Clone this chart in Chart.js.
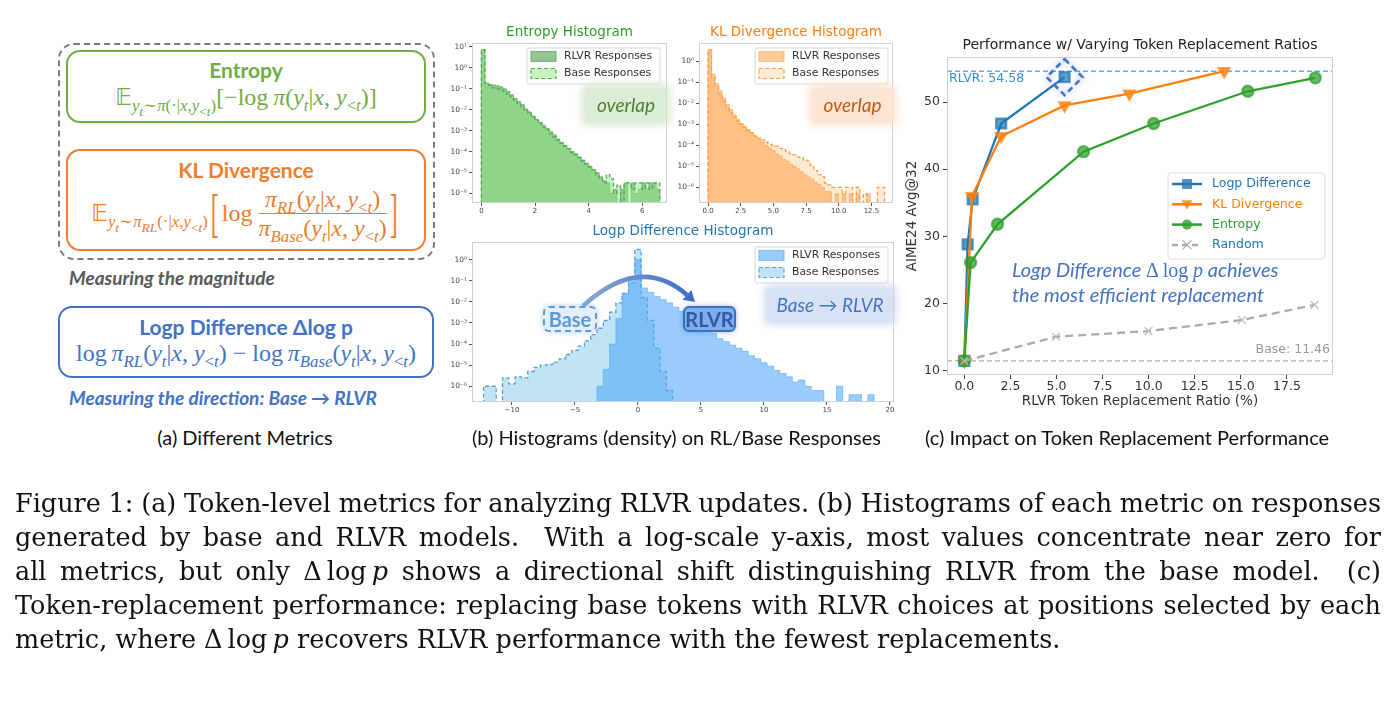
<!DOCTYPE html>
<html>
<head>
<meta charset="utf-8">
<title>Token-level metrics figure</title>
<script src="https://cdn.jsdelivr.net/npm/chart.js@4.4.1/dist/chart.umd.min.js"></script>
<style>
  html, body { margin: 0; padding: 0; background: #fff; }
  body { width: 1396px; height: 703px; position: relative; overflow: hidden; font-family: Lato, 'Open Sans', sans-serif; }
  .cw { position: absolute; }
  .rbox { position: absolute; box-sizing: border-box; border: 2px solid; border-radius: 14px; }
  .ttl { position: absolute; text-align: center; font-weight: bold; font-size: 21px; line-height: 24px; white-space: nowrap; }
  .f { position: absolute; text-align: center; font-family: 'Liberation Serif', 'DejaVu Serif', serif; font-size: 24px; line-height: 28px; white-space: nowrap; }
  .f i { font-style: italic; }
  .f sub { font-size: 0.7em; vertical-align: -0.35em; line-height: 0; }
  .f sub sub { font-size: 0.8em; }
  .bb { font-family: 'DejaVu Sans', 'DejaVu Serif', sans-serif; font-size: 0.95em; }
  .brk { display: inline-block; transform: scaleY(2.2); margin: 0 3px; }
  .frac { display: inline-flex; flex-direction: column; align-items: center; line-height: 28px; }
  .frac .den { border-top: 1.2px solid currentColor; }
  .note { position: absolute; font-style: italic; font-weight: bold; font-size: 19px; line-height: 24px; white-space: nowrap; }
  .subcap { position: absolute; text-align: center; font-size: 20px; line-height: 24px; color: #111; white-space: nowrap; }
  .cap { position: absolute; left: 15px; width: 1366px; font-family: 'DejaVu Serif', serif; font-size: 25.5px; line-height: 34px;
         white-space: nowrap; color: #111; }
  .glow { position: absolute; text-align: center; font-style: italic; font-size: 19px; line-height: 34px; border-radius: 3px; }
  .tag { position: absolute; box-sizing: border-box; border-radius: 6px; text-align: center; font-weight: bold; font-size: 20px; line-height: 22px; }
</style>
</head>
<body>

<!-- (a) metric boxes -->
<div class="rbox" style="left:58px;top:43px;width:377px;height:217px;border:2px dashed #7a7a7a;border-radius:16px"></div>
<div class="rbox" style="left:66px;top:50px;width:360px;height:73px;border-color:#70ad47"></div>
<div class="ttl" style="left:66px;top:58px;width:360px;color:#70ad47">Entropy</div>
<div class="f" style="left:66px;top:83px;width:360px;color:#70ad47"><span class="bb">𝔼</span><sub><i>y</i><sub><i>t</i></sub>∼<i>π</i>(·|<i>x</i>,<i>y</i><sub>&lt;<i>t</i></sub>)</sub>[−log&#8201;<i>π</i>(<i>y</i><sub><i>t</i></sub>|<i>x</i>, <i>y</i><sub>&lt;<i>t</i></sub>)]</div>

<div class="rbox" style="left:66px;top:149px;width:360px;height:102px;border-color:#ed7d31"></div>
<div class="ttl" style="left:66px;top:158px;width:360px;color:#ed7d31">KL Divergence</div>
<div class="f" style="left:66px;top:183px;width:360px;height:60px;display:flex;align-items:center;justify-content:center;color:#ed7d31">
  <span><span class="bb">𝔼</span><sub><i>y</i><sub><i>t</i></sub>∼<i>π</i><sub><i>RL</i></sub>(·|<i>x</i>,<i>y</i><sub>&lt;<i>t</i></sub>)</sub></span>
  <span class="brk">[</span><span>log&nbsp;</span>
  <span class="frac"><span><i>π</i><sub><i>RL</i></sub>(<i>y</i><sub><i>t</i></sub>|<i>x</i>, <i>y</i><sub>&lt;<i>t</i></sub>)</span><span class="den"><i>π</i><sub><i>Base</i></sub>(<i>y</i><sub><i>t</i></sub>|<i>x</i>, <i>y</i><sub>&lt;<i>t</i></sub>)</span></span>
  <span class="brk">]</span>
</div>
<div class="note" style="left:69px;top:266px;color:#595959">Measuring the magnitude</div>

<div class="rbox" style="left:58px;top:306px;width:376px;height:72px;border-color:#4472c4"></div>
<div class="ttl" style="left:58px;top:315px;width:376px;color:#4472c4">Logp Difference Δlog p</div>
<div class="f" style="left:58px;top:339px;width:376px;color:#4472c4">log&#8201;<i>π</i><sub><i>RL</i></sub>(<i>y</i><sub><i>t</i></sub>|<i>x</i>, <i>y</i><sub>&lt;<i>t</i></sub>) − log&#8201;<i>π</i><sub><i>Base</i></sub>(<i>y</i><sub><i>t</i></sub>|<i>x</i>, <i>y</i><sub>&lt;<i>t</i></sub>)</div>
<div class="note" style="left:69px;top:386px;color:#4472c4">Measuring the direction: Base → RLVR</div>
<div class="subcap" style="left:95px;top:425px;width:300px">(a) Different Metrics</div>

<!-- (b) histograms -->
<div class="cw" style="left:440px;top:20px;width:232px;height:202px"><canvas id="entropyHist"></canvas></div>
<div class="cw" style="left:668px;top:20px;width:230px;height:202px"><canvas id="klHist"></canvas></div>
<div class="cw" style="left:440px;top:220px;width:459px;height:201px"><canvas id="logpHist"></canvas></div>

<div class="glow" style="left:585px;top:88px;width:82px;height:34px;background:rgba(206,228,196,0.7);box-shadow:0 0 7px 4px rgba(206,228,196,0.7);color:#4f7f2f">overlap</div>
<div class="glow" style="left:812px;top:88px;width:81px;height:34px;background:rgba(252,222,203,0.8);box-shadow:0 0 7px 4px rgba(252,222,203,0.8);color:#c55a11">overlap</div>
<div class="glow" style="left:767px;top:288px;width:126px;height:34px;background:rgba(203,216,240,0.75);box-shadow:0 0 7px 4px rgba(203,216,240,0.75);color:#4472c4">Base → RLVR</div>

<svg style="position:absolute;left:0;top:0" width="1396" height="703">
  <defs>
    <linearGradient id="arc" gradientUnits="userSpaceOnUse" x1="583" y1="0" x2="694" y2="0">
      <stop offset="0" stop-color="#86abd2"/>
      <stop offset="1" stop-color="#3d6cc4"/>
    </linearGradient>
  </defs>
  <path d="M583 306 Q640 254 687 295" fill="none" stroke="url(#arc)" stroke-width="4.5"/>
  <polygon points="682.5,299.8 691.4,289.9 695,302" fill="#3d6cc4"/>
</svg>
<div class="tag" style="left:543px;top:306px;width:54px;height:26px;border:2px dashed #5b9bd5;background:rgba(226,238,250,0.92);color:#5b9bd5;box-shadow:0 0 5px rgba(91,155,213,0.5)">Base</div>
<div class="tag" style="left:683px;top:306px;width:53px;height:26px;border:2px solid #3d6fc4;background:#7db0e8;color:#2f5aa8;box-shadow:0 0 5px rgba(61,111,196,0.5)">RLVR</div>
<div class="subcap" style="left:472px;top:425px;width:400px">(b) Histograms (density) on RL/Base Responses</div>

<!-- (c) replacement performance -->
<div class="cw" style="left:900px;top:30px;width:445px;height:380px"><canvas id="perfChart"></canvas></div>
<div style="position:absolute;left:1012px;top:257px;font-style:italic;font-size:20px;line-height:24px;color:#4472c4;white-space:nowrap">Logp Difference <span style="font-style:normal;font-family:'Liberation Serif',serif">Δ log</span> <span style="font-family:'Liberation Serif',serif">p</span> achieves<br>the most efficient replacement</div>
<div class="subcap" style="left:925px;top:425px;width:400px">(c) Impact on Token Replacement Performance</div>

<!-- caption -->
<div class="cap fit" style="top:486px"><span>Figure 1: (a) Token-level metrics for analyzing RLVR updates. (b) Histograms of each metric on responses</span></div>
<div class="cap fit" style="top:520px"><span>generated by base and RLVR models.&nbsp; With a log-scale y-axis, most values concentrate near zero for</span></div>
<div class="cap fit" style="top:554px"><span>all metrics, but only Δ&#8201;log&#8201;<i>p</i> shows a directional shift distinguishing RLVR from the base model.&nbsp; (c)</span></div>
<div class="cap fit" style="top:588px"><span>Token-replacement performance: replacing base tokens with RLVR choices at positions selected by each</span></div>
<div class="cap" style="top:622px"><span>metric, where Δ&#8201;log&#8201;<i>p</i> recovers RLVR performance with the fewest replacements.</span></div>

<script>
// ---- histogram densities (bins start at *BinStart, each *BinWidth wide) ----
const entropyBinStart = 0;
const entropyBinWidth = 0.133;
const entropyRlvr = [7.6, 0.19, 0.166, 0.151, 0.141, 0.126, 0.1, 0.076, 0.052, 0.035,
  0.025, 0.018, 0.011, 0.0079, 0.005, 0.0035, 0.0025, 0.0018, 0.0013, 8.9e-4,
  6.3e-4, 4.0e-4, 2.8e-4, 2.0e-4, 1.4e-4, 1.0e-4, 7.9e-5, 5.6e-5, 4.0e-5, 2.8e-5,
  2.0e-5, 1.4e-5, 1.0e-5, 6.3e-6, 4.0e-6, 3.2e-6, 1.0e-6, 1.6e-6, 0, 1.6e-6,
  3.2e-6, 0, 3.2e-6, 1.0e-6, 1.6e-6, 3.2e-6, 1.6e-6, 3.2e-6, 3.2e-6, 1.6e-6];
const entropyBase = [7.1, 0.178, 0.141, 0.112, 0.1, 0.089, 0.076, 0.056, 0.04, 0.028,
  0.02, 0.014, 0.0089, 0.0063, 0.0045, 0.0032, 0.0022, 0.0014, 0.0011, 7.1e-4,
  5.0e-4, 3.5e-4, 2.5e-4, 1.8e-4, 1.4e-4, 8.9e-5, 7.1e-5, 5.0e-5, 3.5e-5, 2.5e-5,
  1.8e-5, 1.3e-5, 7.9e-6, 5.0e-6, 3.2e-6, 7.9e-6, 5.0e-6, 1.0e-6, 2.5e-6, 0,
  3.2e-6, 3.2e-6, 1.6e-6, 3.2e-6, 3.2e-6, 1.6e-6, 3.2e-6, 1.6e-6, 3.2e-6, 3.2e-6];

const klBinStart = 0;
const klBinWidth = 0.27;
const klRlvr = [3.5, 0.25, 0.087, 0.04, 0.018, 0.0089, 0.005, 0.0028, 0.0018, 0.0011,
  7.9e-4, 5.6e-4, 4.0e-4, 2.8e-4, 2.0e-4, 1.4e-4, 1.0e-4, 7.6e-5, 5.6e-5, 4.0e-5,
  3.2e-5, 2.2e-5, 1.8e-5, 1.3e-5, 1.0e-5, 7.9e-6, 5.6e-6, 4.0e-6, 3.2e-6, 2.5e-6,
  1.8e-6, 1.4e-6, 1.0e-6, 6.3e-7, 6.3e-7, 0, 5e-7, 0, 5e-7, 0,
  5e-7, 0, 5e-7, 0, 0, 5e-7, 0, 0, 0, 0];
const klBase = [3.5, 0.178, 0.063, 0.028, 0.0126, 0.0063, 0.0035, 0.0022, 0.0014, 0.001,
  7.1e-4, 5.0e-4, 4.0e-4, 2.8e-4, 2.2e-4, 1.8e-4, 1.4e-4, 1.1e-4, 1.0e-4, 8.9e-5,
  7.1e-5, 6.3e-5, 5.0e-5, 4.0e-5, 3.5e-5, 2.8e-5, 2.5e-5, 2.0e-5, 1.8e-5, 1.1e-5,
  6.3e-6, 4.0e-6, 3.2e-6, 1.6e-6, 1.3e-6, 1.0e-6, 1.0e-6, 1.0e-6, 5e-7, 1.0e-6,
  1.0e-6, 0, 1.0e-6, 0, 5e-7, 0, 0, 0, 1.0e-6, 1.0e-6];

const logpBinStart = -12.25;
const logpBinWidth = 0.5;
const logpRlvr = [0, 0, 0, 0, 0, 0, 0, 0, 0, 0,
  0, 0, 0, 0, 0, 0, 0, 0, 1.0e-6, 6.3e-6,
  1.0e-4, 1.6e-3, 0.025, 0.1, 1.0, 0.045, 0.028, 0.018, 0.0126, 0.0089,
  0.0056, 0.0035, 0.0023, 0.0016, 0.001, 5.6e-4, 3.2e-4, 1.8e-4, 1.3e-4, 8.9e-5,
  6.3e-5, 4.5e-5, 2.8e-5, 2.0e-5, 1.3e-5, 8.9e-6, 5.6e-6, 4.0e-6, 2.8e-6, 1.6e-6,
  2.0e-6, 1.0e-6, 6.3e-7, 6.3e-7, 0, 0, 1.0e-6, 0, 4e-7, 4e-7,
  0, 4e-7];
const logpBase = [1.0e-6, 1.0e-6, 0, 2.5e-6, 1.3e-6, 2.8e-6, 2.5e-6, 5.0e-6, 7.9e-6, 1.0e-5,
  1.1e-5, 1.4e-5, 2.0e-5, 3.2e-5, 5.0e-5, 7.9e-5, 1.4e-4, 2.8e-4, 5.6e-4, 1.3e-3,
  3.2e-3, 8.9e-3, 0.025, 0.079, 3.0, 0.016, 1.3e-3, 6.3e-5, 5.0e-6, 6.3e-7,
  0, 0, 0, 0, 0, 0, 0, 0, 0, 0,
  0, 0, 0, 0, 0, 0, 0, 0, 0, 0,
  0, 0, 0, 0, 0, 0, 0, 0, 0, 0,
  0, 0];

const entropyTicks = [0, 2, 4, 6];
const klTicks = [0, 2.5, 5, 7.5, 10, 12.5];
const logpTicks = [-10, -5, 0, 5, 10, 15, 20];
const entropyDecades = [1e-6, 1e-5, 1e-4, 1e-3, 1e-2, 1e-1, 1, 10];
const histDecades = [1e-6, 1e-5, 1e-4, 1e-3, 1e-2, 1e-1, 1];

// ---- token replacement performance ----
const logpRatio = [0, 0.18, 0.45, 2.0, 5.44];
const logpScore = [11.46, 28.8, 35.5, 46.8, 53.7];
const klRatio = [0, 0.42, 2.0, 5.44, 8.95, 14.1];
const klScore = [11.46, 36.0, 44.9, 49.5, 51.25, 54.6];
const entropyRatio = [0, 0.34, 1.8, 6.47, 10.27, 15.38, 19.04];
const entropyScore = [11.46, 26.1, 31.8, 42.6, 46.8, 51.6, 53.6];
const randomRatio = [0, 4.97, 9.99, 15.06, 19.0];
const randomScore = [11.46, 15.05, 15.9, 17.55, 19.8];
const rlvrScore = 54.58;
const baseScore = 11.46;
const ratioTicks = [0, 2.5, 5, 7.5, 10, 12.5, 15, 17.5];
const scoreTicks = [10, 20, 30, 40, 50];

// stretch caption lines to the full text width
document.querySelectorAll('.cap.fit').forEach(el => {
  const span = el.firstElementChild;
  const gaps = (span.textContent.match(/[ \u00a0]/g) || []).length;
  const extra = (el.clientWidth - span.getBoundingClientRect().width) / gaps;
  span.style.wordSpacing = extra + 'px';
});

Chart.defaults.font.family = "'DejaVu Sans', sans-serif";
Chart.defaults.color = '#333';

const SUP = {'-': '⁻', '0': '⁰', '1': '¹', '2': '²', '3': '³', '4': '⁴', '5': '⁵', '6': '⁶', '7': '⁷', '8': '⁸', '9': '⁹'};
function decadeLabel(v) {
  const e = Math.round(Math.log10(v));
  return '10' + String(e).split('').map(c => SUP[c]).join('');
}
function pairs(xs, ys) {
  return xs.map((x, i) => ({x: x, y: ys[i]}));
}
// empty bins sit below the log axis floor
const histFloor = 1e-9;
function stepPoints(start, width, values) {
  const pts = [{x: start, y: histFloor}];
  values.forEach((v, i) => pts.push({x: start + i * width, y: v > 0 ? v : histFloor}));
  pts.push({x: start + values.length * width, y: histFloor});
  return pts;
}

function marker(ctx, style, x, y, color) {
  ctx.save();
  ctx.fillStyle = color;
  ctx.strokeStyle = color;
  ctx.beginPath();
  if (style === 'rect') {
    ctx.rect(x - 5, y - 5, 10, 10); ctx.fill();
  } else if (style === 'triangle') {
    ctx.moveTo(x - 5.5, y - 4); ctx.lineTo(x + 5.5, y - 4); ctx.lineTo(x, y + 5.5); ctx.closePath(); ctx.fill();
  } else if (style === 'circle') {
    ctx.arc(x, y, 5, 0, Math.PI * 2); ctx.fill();
  } else {
    ctx.lineWidth = 1.2;
    ctx.moveTo(x - 4.5, y - 4.5); ctx.lineTo(x + 4.5, y + 4.5);
    ctx.moveTo(x + 4.5, y - 4.5); ctx.lineTo(x - 4.5, y + 4.5); ctx.stroke();
  }
  ctx.restore();
}

const decor = {
  id: 'decor',
  beforeDatasetsDraw(chart, args, o) {
    if (!o.refLines) return;
    const ctx = chart.ctx, a = chart.chartArea, y = chart.scales.y;
    o.refLines.forEach(r => {
      const py = y.getPixelForValue(r.value);
      ctx.save();
      ctx.strokeStyle = r.color;
      ctx.lineWidth = 1.3;
      ctx.setLineDash([5, 3]);
      ctx.beginPath(); ctx.moveTo(a.left, py); ctx.lineTo(a.right, py); ctx.stroke();
      ctx.fillStyle = r.textColor;
      ctx.font = "12.5px 'DejaVu Sans'";
      ctx.textBaseline = 'middle';
      ctx.textAlign = r.side;
      ctx.fillText(r.text, r.side === 'left' ? a.left + 2 : a.right - 3, py + r.dy);
      ctx.restore();
    });
  },
  afterDatasetsDraw(chart, args, o) {
    if (!o.highlight) return;
    const ctx = chart.ctx;
    const pt = chart.getDatasetMeta(o.highlight.dataset).data[o.highlight.index];
    const s = 18;
    ctx.save();
    ctx.translate(pt.x, pt.y);
    ctx.strokeStyle = '#4472c4';
    ctx.lineWidth = 2.6;
    ctx.setLineDash([6, 4]);
    ctx.shadowColor = 'rgba(68,114,196,0.6)';
    ctx.shadowBlur = 6;
    ctx.beginPath();
    ctx.moveTo(0, -s); ctx.lineTo(s, 0); ctx.lineTo(0, s); ctx.lineTo(-s, 0); ctx.closePath();
    ctx.stroke();
    ctx.restore();
  },
  afterDraw(chart, args, o) {
    const ctx = chart.ctx, a = chart.chartArea;
    ctx.save();
    // light frame around the plot area
    ctx.strokeStyle = '#d0d0d0';
    ctx.lineWidth = 1;
    ctx.strokeRect(Math.round(a.left) + 0.5, Math.round(a.top) + 0.5, Math.round(a.right - a.left) - 1, Math.round(a.bottom - a.top) - 1);
    if (o.title) {
      ctx.fillStyle = o.title.color;
      ctx.font = o.title.size + "px 'DejaVu Sans'";
      ctx.textAlign = 'center';
      ctx.textBaseline = 'middle';
      ctx.fillText(o.title.text, (a.left + a.right) / 2, a.top - o.title.dy);
    }
    if (o.histLegend) {
      const L = o.histLegend, w = 133, h = 36;
      const x0 = a.right - L.inset - w, y0 = a.top + L.top;
      ctx.beginPath(); ctx.roundRect(x0, y0, w, h, 2);
      ctx.fillStyle = 'rgba(255,255,255,0.85)'; ctx.fill();
      ctx.strokeStyle = '#d8d8d8'; ctx.stroke();
      const ds = chart.data.datasets;
      ds.forEach((d, i) => {
        const cy = y0 + 8.5 + i * 17;
        ctx.fillStyle = d.backgroundColor;
        ctx.fillRect(x0 + 4, cy - 5, 25, 10);
        ctx.strokeStyle = d.borderColor;
        ctx.lineWidth = 1.2;
        ctx.setLineDash(d.borderDash || []);
        ctx.strokeRect(x0 + 4, cy - 5, 25, 10);
        ctx.setLineDash([]);
        ctx.fillStyle = '#333';
        ctx.font = "10.8px 'DejaVu Sans'";
        ctx.textAlign = 'left';
        ctx.textBaseline = 'middle';
        ctx.fillText(d.label, x0 + 37, cy);
      });
    }
    if (o.lineLegend) {
      const w = 157, h = 86;
      const x0 = a.right - 8 - w, y0 = a.top + 116;
      ctx.beginPath(); ctx.roundRect(x0, y0, w, h, 3);
      ctx.fillStyle = 'rgba(255,255,255,0.85)'; ctx.fill();
      ctx.strokeStyle = '#dddddd'; ctx.lineWidth = 1; ctx.stroke();
      o.lineLegend.forEach((it, i) => {
        const cy = y0 + 11 + i * 20.3;
        ctx.strokeStyle = it.color;
        ctx.lineWidth = 2.5;
        ctx.setLineDash(it.dash || []);
        ctx.beginPath(); ctx.moveTo(x0 + 4, cy); ctx.lineTo(x0 + 34, cy); ctx.stroke();
        ctx.setLineDash([]);
        marker(ctx, it.style, x0 + 19, cy, it.markerColor);
        ctx.fillStyle = it.textColor;
        ctx.font = "12.5px 'DejaVu Sans'";
        ctx.textAlign = 'left';
        ctx.textBaseline = 'middle';
        ctx.fillText(it.label, x0 + 44, cy);
      });
    }
    ctx.restore();
  }
};
Chart.register(decor);

function histChart(id, h) {
  return new Chart(document.getElementById(id), {
    type: 'line',
    data: {
      datasets: [
        {label: 'RLVR Responses', data: stepPoints(h.start, h.width, h.rlvr), stepped: true, fill: 'start',
         backgroundColor: h.rlvrFill, borderColor: h.rlvrFill, borderWidth: 1, pointRadius: 0, order: h.rlvrOrder},
        {label: 'Base Responses', data: stepPoints(h.start, h.width, h.base), stepped: true, fill: 'start',
         backgroundColor: h.baseFill, borderColor: h.baseEdge, borderWidth: 1.3, borderDash: [4, 2.5], pointRadius: 0, order: h.baseOrder}
      ]
    },
    options: {
      responsive: true,
      maintainAspectRatio: false,
      animation: false,
      layout: {padding: {top: h.padTop, right: 5, left: 0, bottom: 0}},
      plugins: {
        legend: {display: false},
        tooltip: {enabled: false},
        decor: {title: {text: h.title, color: h.titleColor, size: 13.5, dy: 10.3}, histLegend: {inset: h.legendInset, top: 5}}
      },
      scales: {
        x: {
          type: 'linear', min: h.xMin, max: h.xMax,
          afterBuildTicks: s => { s.ticks = h.xTicks.map(v => ({value: v})); },
          afterFit: s => { s.height = 19; },
          grid: {drawOnChartArea: false, tickLength: 3, color: '#555'},
          border: {display: false},
          ticks: {font: {size: 7}, color: '#444', padding: 1, maxRotation: 0, autoSkip: false, callback: h.xFmt}
        },
        y: {
          type: 'logarithmic', min: h.yMin, max: h.yMax,
          afterBuildTicks: s => { s.ticks = h.yTicks.map(v => ({value: v})); },
          afterFit: s => { s.width = h.yWidth; },
          grid: {drawOnChartArea: false, tickLength: 3, color: '#555'},
          border: {display: false},
          ticks: {font: {size: 7.5}, color: '#444', padding: 2, autoSkip: false, callback: v => decadeLabel(v)}
        }
      }
    }
  });
}

histChart('entropyHist', {
  start: entropyBinStart, width: entropyBinWidth, rlvr: entropyRlvr, base: entropyBase,
  rlvrFill: 'rgba(60,150,60,0.55)', baseFill: 'rgba(140,230,130,0.5)', baseEdge: '#52ad52',
  rlvrOrder: 1, baseOrder: 0, padTop: 23, legendInset: 7,
  title: 'Entropy Histogram', titleColor: '#2ca02c',
  xMin: -0.35, xMax: 6.92, xTicks: entropyTicks, xFmt: v => String(v),
  yMin: 3.5e-7, yMax: 15.5, yTicks: entropyDecades, yWidth: 32
});
histChart('klHist', {
  start: klBinStart, width: klBinWidth, rlvr: klRlvr, base: klBase,
  rlvrFill: 'rgba(255,160,70,0.55)', baseFill: 'rgba(252,215,170,0.5)', baseEdge: '#ff9d4d',
  rlvrOrder: 0, baseOrder: 1, padTop: 23, legendInset: 5,
  title: 'KL Divergence Histogram', titleColor: '#ff7f0e',
  xMin: -0.69, xMax: 14.15, xTicks: klTicks, xFmt: v => v.toFixed(1),
  yMin: 1.8e-7, yMax: 7.4, yTicks: histDecades, yWidth: 31
});
histChart('logpHist', {
  start: logpBinStart, width: logpBinWidth, rlvr: logpRlvr, base: logpBase,
  rlvrFill: 'rgba(85,170,248,0.6)', baseFill: 'rgba(140,205,235,0.55)', baseEdge: '#5a9fd8',
  rlvrOrder: 0, baseOrder: 1, padTop: 22, legendInset: 6,
  title: 'Logp Difference Histogram', titleColor: '#1f77b4',
  xMin: -13.17, xMax: 20.32, xTicks: logpTicks, xFmt: v => (v < 0 ? '−' + Math.abs(v) : String(v)),
  yMin: 1.8e-7, yMax: 6.8, yTicks: histDecades, yWidth: 32
});

new Chart(document.getElementById('perfChart'), {
  type: 'line',
  data: {
    datasets: [
      {label: 'Logp Difference', data: pairs(logpRatio, logpScore), borderColor: '#1f77b4', borderWidth: 2.3,
       pointStyle: 'rect', pointRadius: 7, pointBackgroundColor: 'rgba(31,119,180,0.72)', pointBorderColor: 'rgba(31,119,180,0.72)', order: 4},
      {label: 'KL Divergence', data: pairs(klRatio, klScore), borderColor: '#ff7f0e', borderWidth: 2.3,
       pointStyle: 'triangle', pointRotation: 180, pointRadius: 6, pointBackgroundColor: 'rgba(255,127,14,0.72)', pointBorderColor: 'rgba(255,127,14,0.72)', order: 3},
      {label: 'Entropy', data: pairs(entropyRatio, entropyScore), borderColor: '#2ca02c', borderWidth: 2.3,
       pointStyle: 'circle', pointRadius: 5.5, pointBackgroundColor: 'rgba(44,160,44,0.72)', pointBorderColor: 'rgba(44,160,44,0.72)', order: 2},
      {label: 'Random', data: pairs(randomRatio, randomScore), borderColor: '#aaaaaa', borderWidth: 2.3, borderDash: [8, 5],
       pointStyle: 'crossRot', pointRadius: 5.5, pointBorderWidth: 1.2, pointBorderColor: '#bbbbbb', order: 1}
    ]
  },
  options: {
    responsive: true,
    maintainAspectRatio: false,
    animation: false,
    layout: {padding: {top: 27, right: 12, left: 0, bottom: 0}},
    elements: {line: {tension: 0}},
    plugins: {
      legend: {display: false},
      tooltip: {enabled: false},
      decor: {
        title: {text: 'Performance w/ Varying Token Replacement Ratios', color: '#222', size: 14, dy: 12},
        refLines: [
          {value: rlvrScore, color: '#62aee0', text: 'RLVR: ' + rlvrScore, textColor: '#3a8fd0', side: 'left', dy: 8},
          {value: baseScore, color: '#aaaaaa', text: 'Base: ' + baseScore, textColor: '#999999', side: 'right', dy: -11}
        ],
        highlight: {dataset: 0, index: logpRatio.length - 1},
        lineLegend: [
          {label: 'Logp Difference', color: '#1f77b4', markerColor: 'rgba(31,119,180,0.8)', style: 'rect', textColor: '#1f77b4'},
          {label: 'KL Divergence', color: '#ff7f0e', markerColor: 'rgba(255,127,14,0.8)', style: 'triangle', textColor: '#ff7f0e'},
          {label: 'Entropy', color: '#2ca02c', markerColor: 'rgba(44,160,44,0.8)', style: 'circle', textColor: '#2ca02c'},
          {label: 'Random', color: '#aaaaaa', dash: [6, 4], markerColor: '#aaaaaa', style: 'x', textColor: '#1f77b4'}
        ]
      }
    },
    scales: {
      x: {
        type: 'linear', min: -0.94, max: 20.0,
        afterBuildTicks: s => { s.ticks = ratioTicks.map(v => ({value: v})); },
        afterFit: s => { s.height = 35; },
        grid: {drawOnChartArea: false, tickLength: 4, color: '#444'},
        border: {display: false},
        ticks: {font: {size: 12.5}, color: '#333', padding: 0, maxRotation: 0, autoSkip: false, callback: v => v.toFixed(1)},
        title: {display: true, text: 'RLVR Token Replacement Ratio (%)', font: {size: 13.5}, color: '#333', padding: 0}
      },
      y: {
        type: 'linear', min: 9.36, max: 56.7,
        afterBuildTicks: s => { s.ticks = scoreTicks.map(v => ({value: v})); },
        afterFit: s => { s.width = 47; },
        grid: {drawOnChartArea: false, tickLength: 4, color: '#444'},
        border: {display: false},
        ticks: {font: {size: 12.5}, color: '#333', padding: 3, autoSkip: false, callback: v => String(v)},
        title: {display: true, text: 'AIME24 Avg@32', font: {size: 13.5}, color: '#333', padding: {top: 4, bottom: 0}}
      }
    }
  }
});
</script>
</body>
</html>
